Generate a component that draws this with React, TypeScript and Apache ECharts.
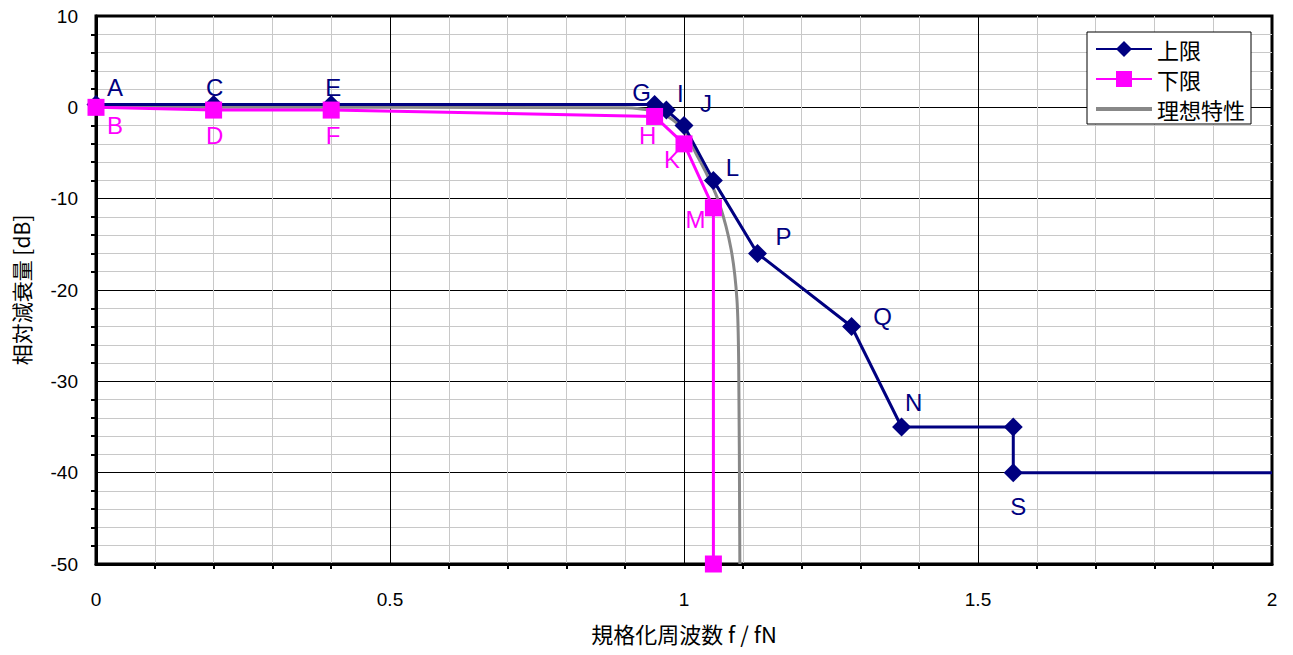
import React, { useEffect, useRef } from "react";
import * as echarts from "echarts";

// ---- data ----
const upperX = [0, 0.2, 0.4, 0.95, 0.97, 1.0, 1.05, 1.125, 1.285, 1.37, 1.56, 1.56, 2];
const upperY = [0.3, 0.3, 0.3, 0.3, -0.3, -2, -8, -16, -24, -35, -35, -40, -40];
const upperLabels = ["A", "C", "E", "G", "I", "J", "L", "P", "Q", "N", "", "S", ""];

const lowerX = [0, 0.2, 0.4, 0.95, 1.0, 1.05, 1.05];
const lowerY = [0, -0.3, -0.3, -1, -4, -11, -50];
const lowerLabels = ["B", "D", "F", "H", "K", "M", ""];

const idealX = [0, 0.5, 0.9, 0.93, 0.95, 0.97, 1.0, 1.02, 1.04, 1.06, 1.08, 1.09, 1.093, 1.095];
const idealY = [0, 0, -0.05, -0.2, -0.4, -0.9, -2.5, -5, -7.5, -10.5, -15.5, -21, -28, -50];

const seriesNames = ["上限", "下限", "理想特性"];
const xTicks = { min: 0, max: 2, interval: 0.5 };
const yTicks = { min: -50, max: 10, interval: 10 };

// label placement (pixel offsets from the point)
const upperOffsets: number[][] = [
  [19, -17], [1, -17], [2, -17], [-13, -12], [14, -17], [22, -22], [19, -13],
  [26, -17], [31, -10], [12, -25], [0, 0], [5, 34], [0, 0],
];
const lowerOffsets: number[][] = [
  [19, 18], [1, 25], [2, 25], [-7, 19], [-12, 16], [-18, 12], [0, 0],
];

const NAVY = "#000080";
const PINK = "#FF00FF";
const GRAY = "#888888";
const FONT = "'Liberation Sans', Arial, sans-serif";
const CJK = "'Noto Sans CJK JP', sans-serif";

function buildData(xs: number[], ys: number[], labels: string[], offsets: number[][], color: string, lastNoSymbol: boolean) {
  return xs.map((x, i) => {
    const item: any = { value: [x, ys[i]] };
    if (labels[i]) {
      item.label = {
        show: true,
        formatter: labels[i],
        position: "inside",
        offset: offsets[i],
        color,
        fontSize: 24,
        fontFamily: FONT,
        align: "center",
        verticalAlign: "middle",
      };
    }
    if (lastNoSymbol && i === xs.length - 1 && !labels[i]) {
      item.symbol = "none";
    }
    return item;
  });
}

export default function App() {
  const ref = useRef<HTMLDivElement>(null);
  useEffect(() => {
    if (!ref.current) return;
    const chart = echarts.init(ref.current, null, { renderer: "svg" });
    const option: any = {
      animation: false,
      backgroundColor: "#ffffff",
      grid: {
        left: 96,
        right: 21,
        top: 16,
        bottom: 91,
        show: true,
        borderColor: "#000",
        borderWidth: 3,
        backgroundColor: "transparent",
      },
      legend: {
        data: [
          seriesNames[0],
          seriesNames[1],
          { name: seriesNames[2], icon: "path://M0,0 L56,0 L56,4 L0,4 Z" },
        ],
        orient: "vertical",
        left: 1087,
        top: 32,
        padding: [4, 6, 2, 8],
        itemGap: 4,
        itemWidth: 56,
        itemHeight: 20,
        backgroundColor: "#fff",
        borderColor: "#000",
        borderWidth: 1,
        borderRadius: 0,
        textStyle: { fontSize: 22, color: "#000", fontFamily: CJK, lineHeight: 26 },
      },
      xAxis: {
        type: "value",
        min: xTicks.min,
        max: xTicks.max,
        interval: xTicks.interval,
        name: "規格化周波数 f / fN",
        nameLocation: "middle",
        nameGap: 58,
        nameTextStyle: { fontSize: 22, color: "#000", fontFamily: CJK },
        axisLine: { show: true, onZero: false, lineStyle: { color: "#000", width: 3 } },
        axisTick: { show: false },
        minorTick: { show: true, splitNumber: 5, length: 5, lineStyle: { color: "#000", width: 2 } },
        axisLabel: {
          fontSize: 19,
          color: "#000",
          fontFamily: FONT,
          margin: 26,
          formatter: (v: number) => String(v),
        },
        splitLine: { show: true, lineStyle: { color: "#000", width: 1 } },
        minorSplitLine: { show: true, lineStyle: { color: "#c8c8c8", width: 1 } },
      },
      yAxis: {
        type: "value",
        min: yTicks.min,
        max: yTicks.max,
        interval: yTicks.interval,
        name: "相対減衰量 [dB]",
        nameLocation: "middle",
        nameGap: 65,
        nameRotate: 90,
        nameTextStyle: { fontSize: 21, color: "#000", fontFamily: CJK },
        axisLine: { show: true, onZero: false, lineStyle: { color: "#000", width: 3 } },
        axisTick: { show: false },
        minorTick: { show: true, splitNumber: 5, length: 5, lineStyle: { color: "#000", width: 2 } },
        axisLabel: { fontSize: 19, color: "#000", fontFamily: FONT, margin: 18 },
        splitLine: { show: true, lineStyle: { color: "#000", width: 1 } },
        minorSplitLine: { show: true, lineStyle: { color: "#c8c8c8", width: 1 } },
      },
      series: [
        {
          name: seriesNames[2],
          type: "line",
          data: idealX.map((x, i) => [x, idealY[i]]),
          symbol: "none",
          smooth: 0.3,
          lineStyle: { color: GRAY, width: 3 },
          itemStyle: { color: GRAY },
          z: 2,
        },
        {
          name: seriesNames[0],
          type: "line",
          data: buildData(upperX, upperY, upperLabels, upperOffsets, NAVY, true),
          symbol: "diamond",
          symbolSize: 19,
          lineStyle: { color: NAVY, width: 3 },
          itemStyle: { color: NAVY },
          z: 3,
        },
        {
          name: seriesNames[1],
          type: "line",
          data: buildData(lowerX, lowerY, lowerLabels, lowerOffsets, PINK, false),
          symbol: "rect",
          symbolSize: 17,
          lineStyle: { color: PINK, width: 3 },
          itemStyle: { color: PINK },
          z: 4,
        },
      ],
    };
    chart.setOption(option);
    return () => chart.dispose();
  }, []);
  return (
    <div
      ref={ref}
      style={{ position: "fixed", left: 0, top: 0, width: 1293, height: 655, background: "#fff" }}
    />
  );
}
